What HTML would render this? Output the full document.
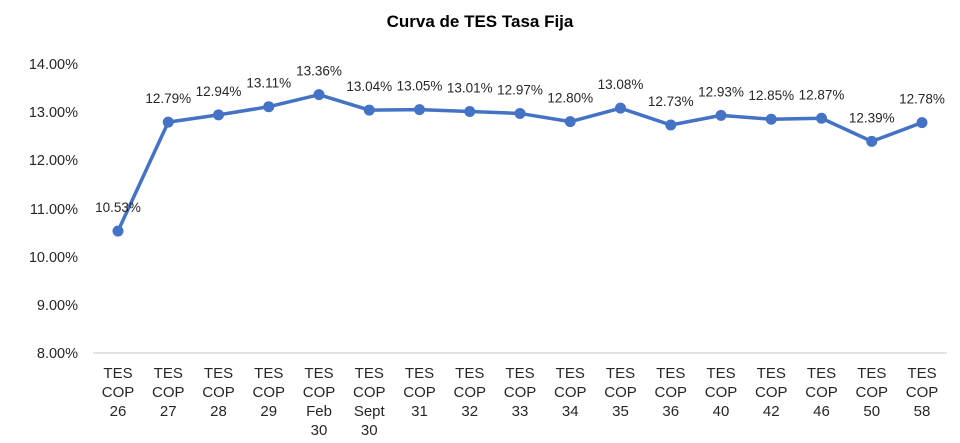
<!DOCTYPE html>
<html><head><meta charset="utf-8"><style>
body{margin:0;background:#fff;}
svg text{font-family:"Liberation Sans",sans-serif;fill:#262626;}
</style></head><body>
<svg width="960" height="438" viewBox="0 0 960 438" xmlns="http://www.w3.org/2000/svg">
<text x="480" y="27" text-anchor="middle" font-size="17" font-weight="bold" style="fill:#000">Curva de TES Tasa Fija</text>
<g font-size="14.5" text-anchor="end">
<text x="78" y="69">14.00%</text>
<text x="78" y="117">13.00%</text>
<text x="78" y="165">12.00%</text>
<text x="78" y="214">11.00%</text>
<text x="78" y="262">10.00%</text>
<text x="78" y="310">9.00%</text>
<text x="78" y="358">8.00%</text>
</g>
<line x1="93" y1="353" x2="947" y2="353" stroke="#d9d9d9" stroke-width="1.5"/>
<g id="chart"></g>
</svg>
<script>
var v=[10.53,12.79,12.94,13.11,13.36,13.04,13.05,13.01,12.97,12.80,13.08,12.73,12.93,12.85,12.87,12.39,12.78];
var lab=[["26"],["27"],["28"],["29"],["Feb","30"],["Sept","30"],["31"],["32"],["33"],["34"],["35"],["36"],["40"],["42"],["46"],["50"],["58"]];
var g=document.getElementById('chart'),s="",pts=[];
for(var i=0;i<v.length;i++){var x=118+i*50.25,y=353-(v[i]-8)*48.2;pts.push(x+","+y);
s+='<circle cx="'+x+'" cy="'+y+'" r="5.5" fill="#4472c4"/>';
s+='<text x="'+x+'" y="'+(y-19)+'" font-size="13.5" text-anchor="middle">'+v[i].toFixed(2)+'%</text>';
var L=["TES","COP"].concat(lab[i]);
for(var j=0;j<L.length;j++)s+='<text x="'+x+'" y="'+(378+j*19)+'" font-size="15" text-anchor="middle">'+L[j]+'</text>';}
g.innerHTML='<polyline points="'+pts.join(" ")+'" fill="none" stroke="#4472c4" stroke-width="3.5" stroke-linejoin="round"/>'+s;
</script>
</body></html>
